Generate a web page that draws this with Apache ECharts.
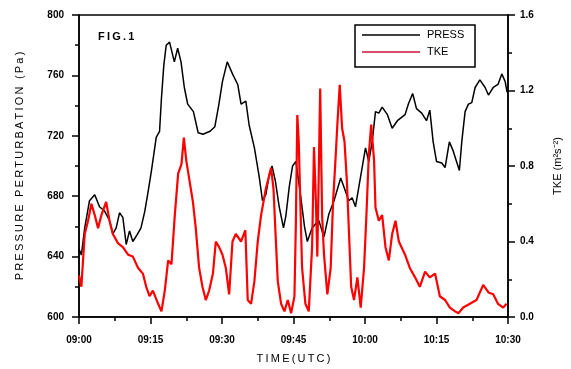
<!DOCTYPE html>
<html>
<head>
<meta charset="utf-8">
<script src="https://cdn.jsdelivr.net/npm/echarts@6/dist/echarts.min.js"></script>
<style>
  html, body { margin: 0; padding: 0; background: #fff; }
  #chart { width: 571px; height: 369px; }
</style>
</head>
<body>
<div id="chart"></div>
<script>
// time in minutes after 09:00
const timeLabels = ['09:00', '09:15', '09:30', '09:45', '10:00', '10:15', '10:30'];

const pressTime = [0, 0.5, 1.2, 2.2, 3.3, 4.3, 5.4, 6.4, 7.1, 7.8, 8.5, 9.2, 9.9, 10.6, 11.3, 12.3, 13.0, 13.8,
    14.5, 15.2, 16.2, 16.9, 17.3, 17.8, 18.3, 19.0, 20.0, 20.7, 21.4, 22.1, 22.8, 24.0, 25.0, 26.0, 27.5, 28.5,
    29.3, 30.1, 31.1, 32.2, 33.3, 34.0, 35.0, 35.7, 36.8, 37.8, 38.5, 39.2, 39.9, 40.5, 41.2, 42.0, 42.9, 43.4,
    44.1, 44.8, 45.5, 46.5, 47.3, 47.9, 48.9, 50.3, 51.4, 52.4, 53.5, 54.9, 55.6, 56.6, 57.3, 58.0, 58.7, 59.4,
    60.1, 60.8, 61.5, 62.2, 62.9, 63.6, 64.7, 65.7, 66.8, 68.4, 69.1, 70.0, 70.8, 71.9, 72.9, 73.6, 74.3, 75.0,
    76.1, 76.8, 77.7, 78.5, 79.2, 79.8, 80.3, 81.0, 81.7, 82.4, 83.1, 84.1, 85.2, 85.9, 86.9, 87.9, 88.7, 89.4, 89.8];
const pressValue = [645, 641, 659, 677, 681, 673, 670, 664, 655, 659, 669, 666, 648, 657, 650, 655, 659, 670,
    683, 697, 719, 723, 745, 767, 780, 782, 769, 778, 769, 752, 741, 736, 722, 721, 723, 726,
    740, 756, 769, 761, 754, 741, 743, 727, 712, 693, 677, 681, 694, 700, 690, 673, 659, 667,
    686, 700, 703, 680, 660, 650, 659, 664, 653, 668, 677, 692, 686, 677, 679, 673, 686, 699,
    712, 703, 716, 736, 735, 739, 734, 725, 730, 734, 741, 748, 738, 735, 730, 737, 716, 703,
    702, 699, 716, 710, 703, 697, 716, 736, 741, 742, 752, 757, 752, 747, 752, 754, 761, 756, 749];

const tkeTime = [0, 0.5, 1.2, 1.9, 2.6, 3.3, 4.0, 4.7, 5.7, 6.4, 7.1, 8.2, 9.2, 10.3, 11.3, 12.4, 13.4, 14.1,
    14.8, 15.5, 16.6, 17.3, 18.0, 18.7, 19.4, 20.1, 20.8, 21.5, 22.0, 22.5, 23.2, 23.9, 24.5, 25.2, 25.9, 26.6,
    27.3, 28.1, 28.7, 29.4, 30.1, 30.8, 31.5, 32.2, 32.9, 34.0, 34.9, 35.4, 36.1, 36.8, 37.5, 38.2, 39.2, 40.3,
    40.8, 41.2, 41.7, 42.4, 43.1, 43.8, 44.5, 45.2, 45.5, 45.8, 46.1, 46.5, 46.8, 47.5, 48.2, 48.9, 49.3, 49.7,
    50.0, 50.6, 51.0, 51.4, 52.1, 52.8, 53.3, 53.8, 54.2, 54.7, 55.2, 55.7, 56.2, 56.6, 57.1, 57.7, 58.4, 59.1,
    59.8, 60.3, 60.8, 61.3, 61.9, 62.2, 62.9, 63.6, 64.3, 65.0, 65.7, 66.4, 67.1, 68.4, 69.4, 70.5, 71.5, 72.6,
    73.6, 74.7, 75.7, 76.8, 77.8, 78.9, 79.6, 80.6, 82.0, 83.4, 84.8, 85.9, 86.9, 87.9, 89.0, 89.7];
const tkeValue = [0.22, 0.16, 0.44, 0.51, 0.60, 0.54, 0.47, 0.54, 0.61, 0.51, 0.44, 0.39, 0.37, 0.33, 0.32, 0.26, 0.23, 0.16,
    0.11, 0.14, 0.07, 0.03, 0.14, 0.30, 0.28, 0.54, 0.76, 0.81, 0.95, 0.83, 0.72, 0.61, 0.47, 0.26, 0.16, 0.09,
    0.14, 0.23, 0.40, 0.37, 0.33, 0.26, 0.12, 0.40, 0.44, 0.40, 0.46, 0.09, 0.07, 0.19, 0.40, 0.54, 0.68, 0.79,
    0.68, 0.46, 0.19, 0.07, 0.03, 0.09, 0.02, 0.11, 0.50, 1.07, 0.93, 0.54, 0.26, 0.07, 0.03, 0.37, 0.90, 0.61,
    0.32, 1.21, 0.54, 0.33, 0.12, 0.26, 0.61, 0.83, 1.02, 1.23, 1.00, 0.93, 0.72, 0.47, 0.16, 0.09, 0.21, 0.05,
    0.26, 0.54, 0.86, 1.02, 0.83, 0.58, 0.51, 0.54, 0.37, 0.30, 0.44, 0.51, 0.40, 0.33, 0.26, 0.21, 0.16, 0.24,
    0.21, 0.23, 0.11, 0.09, 0.05, 0.03, 0.02, 0.05, 0.07, 0.09, 0.17, 0.13, 0.12, 0.07, 0.05, 0.07];

const FONT = '"Liberation Sans", Arial, sans-serif';

// thin spaces between letters to mimic the spaced-out lettering
function spaced(s) {
    return s.split('').join('\u2009');
}

const chart = echarts.init(document.getElementById('chart'));

const axisCommon = {
    axisLine: { show: true, lineStyle: { color: '#000', width: 1.5 } },
    axisTick: { show: true, inside: false, length: 7, lineStyle: { color: '#000', width: 1.5 } },
    minorTick: { show: true, splitNumber: 2, length: 4, lineStyle: { color: '#000', width: 1.5 } },
    splitLine: { show: false },
    axisLabel: { color: '#000', fontFamily: FONT, fontSize: 10, fontWeight: 'bold' },
    nameTextStyle: { color: '#000', fontFamily: FONT, fontSize: 11 }
};

// boxed key in the upper right, drawn as plain graphics
const legendBox = [
    { type: 'rect', shape: { x: 355, y: 25, width: 120, height: 42 },
      style: { fill: '#fff', stroke: '#000', lineWidth: 1.5 }, z: 10 },
    { type: 'line', shape: { x1: 362, y1: 35, x2: 420, y2: 35 },
      style: { stroke: '#000', lineWidth: 1.5 }, z: 11 },
    { type: 'line', shape: { x1: 362, y1: 52, x2: 420, y2: 52 },
      style: { stroke: '#d0103a', lineWidth: 1.5 }, z: 11 },
    { type: 'text', x: 427, y: 35, z: 11,
      style: { text: 'PRESS', fill: '#000', font: '11px ' + FONT, verticalAlign: 'middle' } },
    { type: 'text', x: 427, y: 52, z: 11,
      style: { text: 'TKE', fill: '#000', font: '11px ' + FONT, verticalAlign: 'middle' } }
];

const option = {
    backgroundColor: '#fff',
    animation: false,
    grid: {
        left: 79, right: 63, top: 15, bottom: 51,
        show: true, borderColor: '#000', borderWidth: 1.5, backgroundColor: 'transparent'
    },
    graphic: [{
        type: 'text',
        left: 98, top: 31,
        style: { text: spaced('FIG.1'), fill: '#000', font: 'bold 11px ' + FONT }
    }].concat(legendBox),
    xAxis: Object.assign({}, axisCommon, {
        type: 'value',
        min: 0, max: 90, interval: 15,
        name: spaced('TIME(UTC)'),
        nameLocation: 'middle',
        nameGap: 36,
        axisLabel: Object.assign({}, axisCommon.axisLabel, {
            margin: 18,
            formatter: v => timeLabels[Math.round(v / 15)]
        })
    }),
    yAxis: [
        Object.assign({}, axisCommon, {
            type: 'value',
            min: 600, max: 800, interval: 40,
            name: spaced('PRESSURE PERTURBATION (Pa)'),
            nameLocation: 'middle',
            nameRotate: 90,
            nameGap: 54,
            axisLabel: Object.assign({}, axisCommon.axisLabel, { margin: 15 })
        }),
        Object.assign({}, axisCommon, {
            type: 'value',
            position: 'right',
            min: 0, max: 1.6, interval: 0.4,
            name: 'TKE (m\u00b2s\u207b\u00b2)',
            nameLocation: 'middle',
            nameRotate: 90,
            nameGap: 44,
            axisLabel: Object.assign({}, axisCommon.axisLabel, {
                margin: 12,
                formatter: v => v.toFixed(1)
            })
        })
    ],
    series: [
        {
            name: 'PRESS',
            type: 'line',
            yAxisIndex: 0,
            symbol: 'none',
            lineStyle: { color: '#000', width: 1.5 },
            itemStyle: { color: '#000' },
            data: pressTime.map((t, i) => [t, pressValue[i]])
        },
        {
            name: 'TKE',
            type: 'line',
            yAxisIndex: 1,
            symbol: 'none',
            lineStyle: { color: '#ff0000', width: 2.2 },
            itemStyle: { color: '#ff0000' },
            data: tkeTime.map((t, i) => [t, tkeValue[i]])
        }
    ]
};

chart.setOption(option);
</script>
</body>
</html>
